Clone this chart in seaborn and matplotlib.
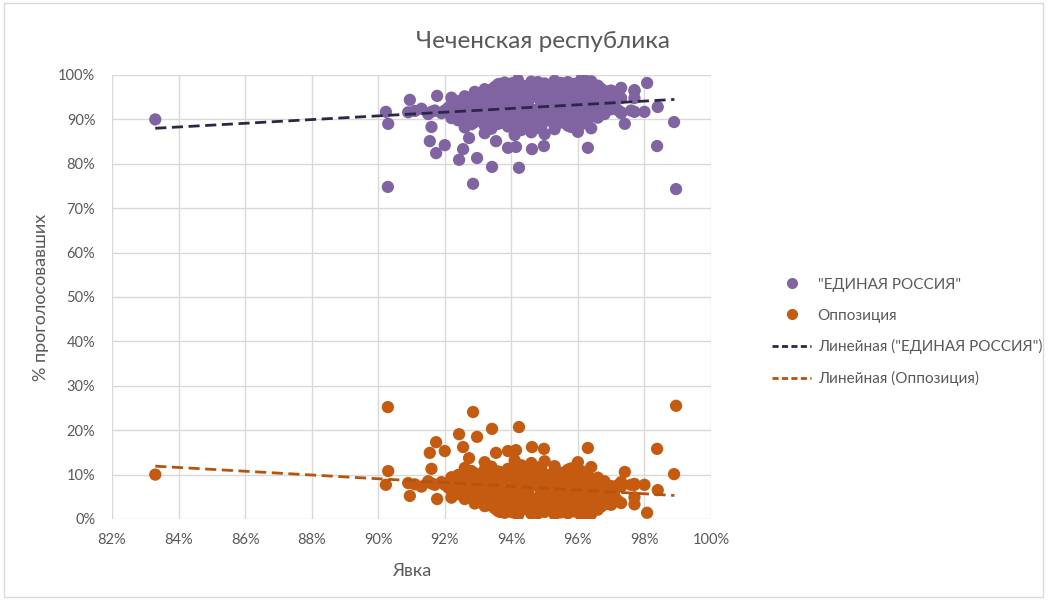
import numpy as np
import pandas as pd
import matplotlib.pyplot as plt
import seaborn as sns
from matplotlib.lines import Line2D
from matplotlib.patches import Rectangle

# turnout (%), "ЕДИНАЯ РОССИЯ" share (%), opposition share (%) per polling station
turnout = [
    83.3, 90.29, 90.23, 90.3, 90.95, 91.77, 91.6, 91.55, 91.74, 92.0,
    92.43, 92.55, 92.73, 92.97, 92.85, 93.42, 93.54, 93.9, 94.14, 94.23,
    93.66, 94.62, 94.98, 96.3, 97.41, 98.08, 98.38, 98.89, 98.95, 97.7,
    97.7, 97.3, 97.7, 98.0, 98.4, 97.2, 96.0, 96.15, 97.3, 97.7,
    93.8, 94.2, 94.6, 95.0, 95.3, 95.7, 96.1, 96.4,
    93.6, 94.0, 94.4, 94.8, 95.2, 95.5, 95.9, 96.3, 96.6,
    93.2, 93.5, 93.9, 94.3, 94.7, 95.1, 95.5, 95.9, 96.3, 96.7, 97.0,
    92.9, 93.3, 93.7, 94.1, 94.5, 94.9, 95.3, 95.7, 96.1, 96.5, 96.9,
    92.6, 93.0, 93.3, 93.7, 94.0, 94.4, 94.8, 95.2, 95.6, 96.0, 96.4, 96.8, 97.2,
    92.2, 92.7, 93.1, 93.5, 93.9, 94.3, 94.7, 95.1, 95.5, 95.9, 96.3, 96.7, 97.1,
    92.4, 92.8, 93.1, 93.5, 93.8, 94.2, 94.5, 94.9, 95.3, 95.7, 96.1, 96.5, 96.9,
    92.2, 92.6, 93.0, 93.4, 93.7, 94.1, 94.5, 94.9, 95.2, 95.6, 96.0, 96.4, 96.8, 97.1,
    91.3, 91.7, 92.1, 92.5, 92.9, 93.2, 93.6, 94.0, 94.3, 94.7, 95.0, 95.4, 95.8, 96.2, 96.6, 97.0,
    91.1, 91.6, 92.0, 92.4, 92.8, 93.2, 93.6, 94.0, 94.4, 94.8, 95.2, 95.6, 96.0, 96.4, 96.8, 97.3, 97.6,
    90.9, 91.5, 91.9, 92.3, 92.7, 93.0, 93.4, 93.8, 94.1, 94.5, 94.9, 95.2, 95.6, 96.0, 96.4, 96.8, 97.3,
    92.2, 92.6, 93.0, 93.4, 93.8, 94.2, 94.6, 95.0, 95.4, 95.8, 96.2, 96.6,
    92.4, 92.9, 93.3, 93.7, 94.0, 94.4, 94.7, 95.1, 95.5, 95.9, 96.3,
    92.8, 93.2, 93.6, 94.0, 94.5, 94.9, 95.3, 95.7, 96.1,
    92.6, 93.4, 93.9, 94.3, 94.8, 95.3, 95.8, 96.4,
    93.2, 94.1, 94.6, 95.0,
]
er_share = [
    90.0, 74.8, 91.7, 89.0, 94.4, 95.3, 88.3, 85.1, 82.4, 84.2,
    80.9, 83.3, 85.8, 81.3, 75.5, 79.3, 85.1, 83.6, 83.8, 79.1,
    98.0, 83.3, 84.0, 83.6, 89.0, 98.2, 84.0, 89.4, 74.3, 96.4,
    94.8, 94.8, 91.7, 91.7, 92.8, 92.1, 87.2, 99.3, 97.1, 96.6,
    98.3, 98.9, 98.5, 98.1, 98.7, 98.4, 99.0, 98.6,
    97.9, 98.1, 97.5, 98.4, 97.7, 98.2, 98.0, 98.3, 97.6,
    96.8, 97.3, 97.6, 97.1, 97.8, 97.0, 97.5, 97.2, 97.7, 96.9, 96.5,
    96.2, 96.6, 96.0, 96.5, 96.3, 96.8, 96.1, 96.6, 96.4, 96.0, 96.3,
    95.2, 95.9, 95.4, 95.8, 95.3, 95.7, 96.0, 95.5, 95.9, 95.4, 95.8, 95.2, 95.6,
    94.9, 94.6, 95.0, 94.7, 94.9, 94.6, 95.1, 94.8, 94.6, 95.0, 94.7, 94.9, 94.5,
    94.1, 93.8, 94.3, 94.0, 94.4, 93.7, 94.2, 93.9, 94.5, 94.0, 93.6, 94.1, 93.8,
    93.3, 93.0, 93.5, 93.1, 93.4, 93.0, 93.3, 93.6, 93.1, 93.4, 93.2, 93.0, 93.3, 93.1,
    92.4, 92.0, 92.6, 92.8, 92.3, 92.7, 92.2, 92.9, 92.5, 92.1, 92.8, 92.4, 92.6, 92.0, 92.5, 92.3,
    91.9, 91.7, 92.0, 91.8, 91.6, 92.0, 91.7, 91.9, 91.8, 91.6, 92.0, 91.8, 91.7, 91.9, 91.8, 91.6, 92.0,
    91.6, 91.2, 91.4, 90.9, 91.5, 91.0, 91.3, 90.8, 91.6, 91.1, 90.7, 91.4, 91.0, 91.5, 90.9, 91.2, 91.4,
    90.3, 90.0, 90.4, 90.1, 90.3, 89.9, 90.4, 90.2, 90.0, 90.3, 90.1, 90.4,
    89.8, 89.4, 89.9, 89.2, 89.7, 89.5, 89.0, 89.8, 89.3, 89.6, 89.9,
    88.9, 88.6, 89.0, 88.7, 88.9, 88.5, 88.8, 88.6, 88.9,
    88.2, 87.9, 88.4, 87.6, 88.1, 87.8, 88.3, 88.0,
    86.9, 86.5, 87.1, 86.7,
]
opp_share = [
    10.0, 25.2, 7.7, 10.8, 5.2, 4.5, 11.3, 14.9, 17.3, 15.3,
    19.1, 16.2, 13.7, 18.5, 24.1, 20.3, 14.9, 15.3, 15.5, 20.7,
    1.6, 16.2, 15.8, 16.0, 10.6, 1.4, 15.8, 10.1, 25.5, 3.3,
    4.9, 3.6, 7.7, 7.7, 6.5, 7.6, 12.8, 0.5, 7.3, 7.9,
    1.4, 0.8, 1.2, 1.6, 1.0, 1.3, 0.7, 1.1,
    1.8, 1.6, 2.2, 1.3, 2.0, 1.5, 1.7, 1.4, 2.1,
    2.9, 2.4, 2.1, 2.6, 1.9, 2.7, 2.2, 2.5, 2.0, 2.8, 3.2,
    3.5, 3.1, 3.7, 3.2, 3.4, 2.9, 3.6, 3.1, 3.3, 3.7, 3.4,
    4.5, 3.8, 4.3, 3.9, 4.4, 4.0, 3.7, 4.2, 3.8, 4.3, 3.9, 4.5, 4.1,
    4.8, 5.1, 4.7, 5.0, 4.8, 5.1, 4.6, 4.9, 5.1, 4.7, 5.0, 4.8, 5.2,
    5.6, 5.9, 5.4, 5.7, 5.3, 6.0, 5.5, 5.8, 5.2, 5.7, 6.1, 5.6, 5.9,
    6.4, 6.7, 6.2, 6.6, 6.3, 6.7, 6.4, 6.1, 6.6, 6.3, 6.5, 6.7, 6.4, 6.6,
    7.3, 7.7, 7.1, 6.9, 7.4, 7.0, 7.5, 6.8, 7.2, 7.6, 6.9, 7.3, 7.1, 7.7, 7.2, 7.4,
    7.8, 8.0, 7.7, 7.9, 8.1, 7.7, 8.0, 7.8, 7.9, 8.1, 7.7, 7.9, 8.0, 7.8, 7.9, 8.1, 7.7,
    8.1, 8.5, 8.3, 8.8, 8.2, 8.7, 8.4, 8.9, 8.1, 8.6, 9.0, 8.3, 8.7, 8.2, 8.8, 8.5, 8.3,
    9.4, 9.7, 9.3, 9.6, 9.4, 9.8, 9.3, 9.5, 9.7, 9.4, 9.6, 9.3,
    9.9, 10.3, 9.8, 10.5, 10.0, 10.2, 10.7, 9.9, 10.4, 10.1, 9.8,
    10.8, 11.1, 10.7, 11.0, 10.8, 11.2, 10.9, 11.1, 10.8,
    11.5, 11.8, 11.3, 12.1, 11.6, 11.9, 11.4, 11.7,
    12.8, 13.2, 12.6, 13.0,
]

# linear trend lines
trend_x = [83.3, 98.9]
trend_er = [88.0, 94.5]
trend_opp = [11.9, 5.3]

x_ticks = list(range(82, 101, 2))
y_ticks = list(range(0, 101, 10))

ER = '"ЕДИНАЯ РОССИЯ"'
OPP = "Оппозиция"
c_er = "#8064A2"
c_opp = "#C55A11"
c_er_line = "#2B2747"
c_opp_line = "#B4540F"
grey = "#595959"

df = pd.DataFrame({
    "turnout": turnout * 2,
    "share": er_share + opp_share,
    "party": [ER] * len(er_share) + [OPP] * len(opp_share),
})

sns.set_style("white")
plt.rcParams["font.family"] = ["Lato", "DejaVu Sans"]

fig = plt.figure(figsize=(10.49, 6.0), dpi=100)
ax = fig.add_axes([112 / 1049, 1 - 519 / 600, 599 / 1049, 444 / 600])

sns.scatterplot(data=df, x="turnout", y="share", hue="party",
                palette={ER: c_er, OPP: c_opp}, s=78, linewidth=0,
                legend=False, ax=ax, zorder=3)
ax.plot(trend_x, trend_er, color=c_er_line, lw=2, ls=(0, (4, 2)), zorder=4)
ax.plot(trend_x, trend_opp, color=c_opp_line, lw=2, ls=(0, (4, 2)), zorder=4)

ax.set_xlim(82, 100)
ax.set_ylim(0, 100)
ax.set_xticks(x_ticks)
ax.set_yticks(y_ticks)
ax.set_xticklabels([f"{t}%" for t in x_ticks])
ax.set_yticklabels([f"{t}%" for t in y_ticks])
ax.tick_params(colors=grey, labelsize=10.5, length=0)
ax.tick_params(axis="x", pad=10)
ax.tick_params(axis="y", pad=12)
ax.grid(True, color="#D9D9D9", lw=1)
for sp in ax.spines.values():
    sp.set_visible(False)
ax.set_xlabel("Явка", color=grey, fontsize=13)
ax.set_ylabel("% проголосовавших", color=grey, fontsize=13)
ax.xaxis.set_label_coords(0.5, (519 - 563) / 444)
ax.yaxis.set_label_coords((49 - 112) / 599, 0.5)

fig.text(543 / 1049, 1 - 42 / 600, "Чеченская республика", ha="center",
         va="center", fontsize=17.5, color=grey)

handles = [
    Line2D([], [], ls="none", marker="o", ms=7, color=c_er),
    Line2D([], [], ls="none", marker="o", ms=7, color=c_opp),
    Line2D([], [], color=c_er_line, lw=2, ls=(0, (2.2, 1.2))),
    Line2D([], [], color=c_opp_line, lw=2, ls=(0, (2.2, 1.2))),
]
labels = [ER, OPP, 'Линейная ("ЕДИНАЯ РОССИЯ")', "Линейная (Оппозиция)"]
fig.legend(handles, labels, loc="upper left", bbox_to_anchor=(758 / 1049, 1 - 264 / 600),
           frameon=False, fontsize=11, labelcolor=grey, handlelength=2.6,
           handletextpad=0.4, labelspacing=1.1)

fig.patches.append(Rectangle((4 / 1049, 0.005), 1039 / 1049, 0.99, transform=fig.transFigure,
                             fill=False, edgecolor="#D9D9D9", lw=1))

plt.savefig("out.png", dpi=100)
